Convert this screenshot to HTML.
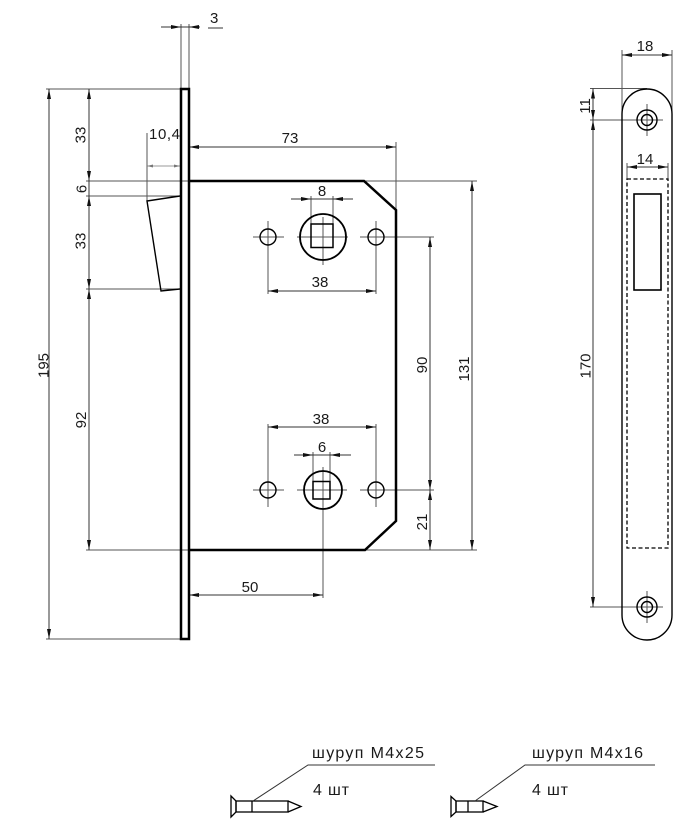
<!DOCTYPE html>
<html><head><meta charset="utf-8"><style>
html,body{margin:0;padding:0;background:#fff;}
svg{display:block;}
text{font-family:"Liberation Sans",sans-serif;font-size:15px;fill:#1a1a1a;}
</style></head><body>
<svg width="691" height="834" viewBox="0 0 691 834" xmlns="http://www.w3.org/2000/svg">
<defs>
<marker id="a" viewBox="0 0 10 4" refX="10" refY="2" markerWidth="10" markerHeight="4" markerUnits="userSpaceOnUse" orient="auto-start-reverse"><path d="M0,0 L10,2 L0,4z" fill="#111"/></marker>
<marker id="s" viewBox="0 0 6 3" refX="6" refY="1.5" markerWidth="6" markerHeight="3" markerUnits="userSpaceOnUse" orient="auto-start-reverse"><path d="M0,0 L6,1.5 L0,3z" fill="#777"/></marker>
</defs>

<g stroke="#555" stroke-width="1" fill="none">
  <line x1="181" y1="24" x2="181" y2="89"/>
  <line x1="189" y1="24" x2="189" y2="89"/>
  <line x1="46" y1="89" x2="181" y2="89"/>
  <line x1="46" y1="639" x2="181" y2="639"/>
  <line x1="86" y1="181" x2="477" y2="181"/>
  <line x1="86" y1="196" x2="180" y2="196"/>
  <line x1="86" y1="289" x2="180" y2="289"/>
  <line x1="86" y1="550" x2="477" y2="550"/>
  <line x1="147" y1="133" x2="147" y2="201"/>
  <line x1="396" y1="142" x2="396" y2="210"/>
  <line x1="311" y1="196" x2="311" y2="224"/>
  <line x1="333" y1="196" x2="333" y2="224"/>
  <line x1="313" y1="452" x2="313" y2="482"/>
  <line x1="330" y1="452" x2="330" y2="482"/>
  <line x1="253" y1="237" x2="284" y2="237"/>
  <line x1="268" y1="221" x2="268" y2="294"/>
  <line x1="360" y1="237" x2="434" y2="237"/>
  <line x1="376" y1="221" x2="376" y2="294"/>
  <line x1="297" y1="237" x2="348" y2="237"/>
  <line x1="323" y1="217" x2="323" y2="265"/>
  <line x1="253" y1="490" x2="284" y2="490"/>
  <line x1="268" y1="424" x2="268" y2="507"/>
  <line x1="360" y1="490" x2="434" y2="490"/>
  <line x1="376" y1="424" x2="376" y2="507"/>
  <line x1="297" y1="490" x2="347" y2="490"/>
  <line x1="323" y1="467" x2="323" y2="598"/>
  <line x1="622" y1="50" x2="622" y2="114"/>
  <line x1="672" y1="50" x2="672" y2="114"/>
  <line x1="590" y1="88.5" x2="647" y2="88.5"/>
  <line x1="590" y1="120" x2="663" y2="120"/>
  <line x1="647" y1="104" x2="647" y2="136"/>
  <line x1="590" y1="607" x2="663" y2="607"/>
  <line x1="647" y1="591" x2="647" y2="623"/>
  <line x1="627" y1="163" x2="627" y2="179"/>
  <line x1="668" y1="163" x2="668" y2="179"/>
</g>

<g stroke="#333" stroke-width="1" fill="none">
  <line x1="161" y1="27" x2="200" y2="27"/>
  <line x1="49" y1="89" x2="49" y2="639" marker-start="url(#a)" marker-end="url(#a)"/>
  <line x1="89" y1="89" x2="89" y2="181" marker-start="url(#a)" marker-end="url(#a)"/>
  <line x1="89" y1="181" x2="89" y2="196"/>
  <line x1="89" y1="196" x2="89" y2="289" marker-start="url(#a)" marker-end="url(#a)"/>
  <line x1="89" y1="289" x2="89" y2="550" marker-start="url(#a)" marker-end="url(#a)"/>
  <line x1="189" y1="147" x2="396" y2="147" marker-start="url(#a)" marker-end="url(#a)"/>
  <line x1="291" y1="199" x2="353" y2="199"/>
  <line x1="268" y1="291" x2="376" y2="291" marker-start="url(#a)" marker-end="url(#a)"/>
  <line x1="430" y1="237" x2="430" y2="490" marker-start="url(#a)" marker-end="url(#a)"/>
  <line x1="430" y1="490" x2="430" y2="550" marker-start="url(#a)" marker-end="url(#a)"/>
  <line x1="472" y1="181" x2="472" y2="550" marker-start="url(#a)" marker-end="url(#a)"/>
  <line x1="268" y1="427" x2="376" y2="427" marker-start="url(#a)" marker-end="url(#a)"/>
  <line x1="294" y1="455" x2="351" y2="455"/>
  <line x1="189" y1="595" x2="323" y2="595" marker-start="url(#a)" marker-end="url(#a)"/>
  <line x1="622" y1="55" x2="672" y2="55" marker-start="url(#a)" marker-end="url(#a)"/>
  <line x1="593" y1="88.5" x2="593" y2="120" marker-start="url(#a)" marker-end="url(#a)"/>
  <line x1="593" y1="120" x2="593" y2="607" marker-start="url(#a)" marker-end="url(#a)"/>
  <line x1="627" y1="167" x2="668" y2="167" marker-start="url(#a)" marker-end="url(#a)"/>
  <line x1="208" y1="28" x2="223" y2="28"/>
</g>
<line x1="147" y1="166" x2="180" y2="166" stroke="#777" stroke-width="0.8" marker-start="url(#s)" marker-end="url(#s)"/>

<g fill="#111">
  <polygon points="181,27 171,25 171,29"/>
  <polygon points="189,27 199,25 199,29"/>
  <polygon points="311,199 301,197 301,201"/>
  <polygon points="333,199 343,197 343,201"/>
  <polygon points="313,455 303,453 303,457"/>
  <polygon points="330,455 340,453 340,457"/>
</g>

<g stroke="#000" fill="none">
  <rect x="181" y="89" width="8" height="550" stroke-width="2.5"/>
  <path d="M189,181 L364,181 L396,210 L396,521 L365,550 L189,550" stroke-width="2.5"/>
  <path d="M180,196 L147,201 L161,291 L180,289" stroke-width="1.4"/>
  <circle cx="268" cy="237" r="8" stroke-width="1.4"/>
  <circle cx="376" cy="237" r="8" stroke-width="1.4"/>
  <circle cx="323" cy="237" r="23" stroke-width="1.8"/>
  <rect x="311" y="224" width="22" height="23.5" stroke-width="1.5"/>
  <circle cx="268" cy="490" r="8" stroke-width="1.4"/>
  <circle cx="376" cy="490" r="8" stroke-width="1.4"/>
  <circle cx="323" cy="490" r="19" stroke-width="1.8"/>
  <rect x="313" y="481.5" width="17" height="17.5" stroke-width="1.5"/>
  <path d="M622,114 A25,25 0 0 1 672,114 L672,615 A25,25 0 0 1 622,615 Z" stroke-width="1.4"/>
  <circle cx="647" cy="120" r="10" stroke-width="1.4"/>
  <circle cx="647" cy="120" r="5.5" stroke-width="1.4"/>
  <circle cx="647" cy="607" r="10" stroke-width="1.4"/>
  <circle cx="647" cy="607" r="5.5" stroke-width="1.4"/>
  <rect x="627" y="179" width="41" height="369" stroke-width="1.3" stroke-dasharray="4 2.5"/>
  <rect x="634" y="194" width="27" height="96" stroke-width="1.6"/>
</g>

<g stroke="#000" stroke-width="1.3" fill="none">
  <path d="M231,796 L236,801 L236,812 L231,817 Z"/>
  <rect x="236" y="801" width="52" height="11"/>
  <line x1="252" y1="801" x2="252" y2="812"/>
  <path d="M288,801 L301,806.5 L288,812"/>
  <path d="M451,796.5 L456,801 L456,812 L451,816.5 Z"/>
  <rect x="456" y="801" width="27" height="11"/>
  <line x1="468" y1="801" x2="468" y2="812"/>
  <path d="M483,801 L497,806.5 L483,812"/>
</g>
<g stroke="#333" stroke-width="1" fill="none">
  <polyline points="253,801 308,765 435,765"/>
  <polyline points="475,801 525,765 655,765"/>
</g>

<text x="210" y="23">3</text>
<text x="149" y="139" textLength="31">10,4</text>
<text x="290" y="143" text-anchor="middle">73</text>
<text x="322" y="196" text-anchor="middle">8</text>
<text x="320" y="287" text-anchor="middle">38</text>
<text x="321" y="424" text-anchor="middle">38</text>
<text x="322" y="452" text-anchor="middle">6</text>
<text x="250" y="592" text-anchor="middle">50</text>
<text x="645" y="51" text-anchor="middle">18</text>
<text x="645" y="164" text-anchor="middle">14</text>
<text transform="translate(48.5,365.5) rotate(-90)" text-anchor="middle">195</text>
<text transform="translate(85.5,135) rotate(-90)" text-anchor="middle">33</text>
<text transform="translate(86.5,189) rotate(-90)" text-anchor="middle">6</text>
<text transform="translate(85.5,241) rotate(-90)" text-anchor="middle">33</text>
<text transform="translate(86,420) rotate(-90)" text-anchor="middle">92</text>
<text transform="translate(427,365) rotate(-90)" text-anchor="middle">90</text>
<text transform="translate(427,522) rotate(-90)" text-anchor="middle">21</text>
<text transform="translate(469,369) rotate(-90)" text-anchor="middle">131</text>
<text transform="translate(590.5,366) rotate(-90)" text-anchor="middle">170</text>
<text transform="translate(590,106) rotate(-90)" text-anchor="middle">11</text>
<text x="312" y="758" style="font-size:16px" textLength="112">шуруп М4x25</text>
<text x="313" y="795" style="font-size:16px" textLength="36">4 шт</text>
<text x="532" y="758" style="font-size:16px" textLength="111">шуруп М4x16</text>
<text x="532" y="795" style="font-size:16px" textLength="36">4 шт</text>
</svg>
</body></html>
